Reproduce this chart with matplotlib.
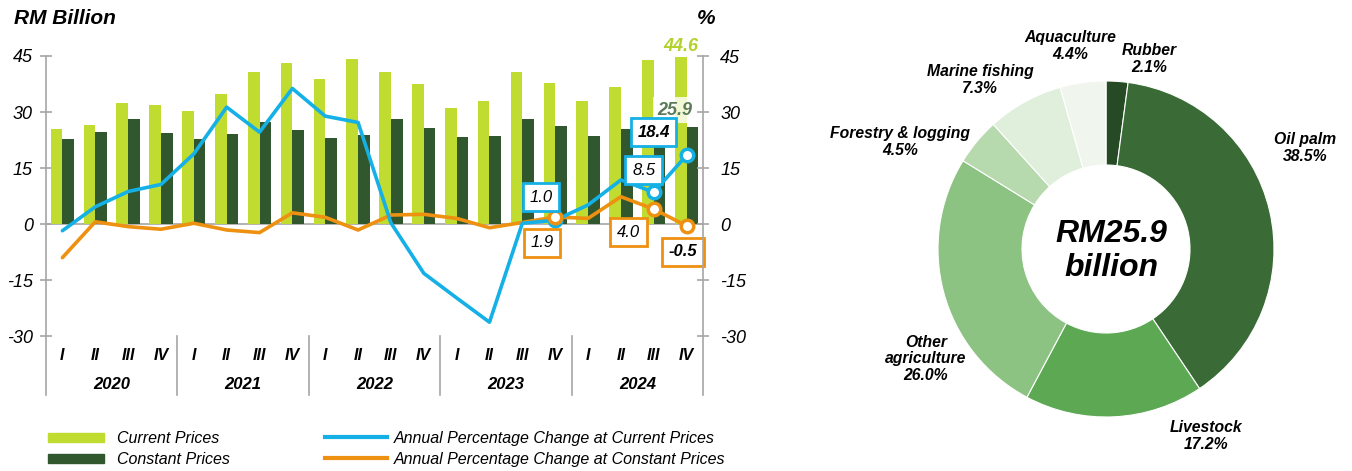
import numpy as np
import matplotlib
matplotlib.use("Agg")
import matplotlib.pyplot as plt
from matplotlib.patches import Patch
from matplotlib.lines import Line2D

plt.rcParams['font.family'] = ['Liberation Sans', 'DejaVu Sans']

# quarterly value added, RM billion
years = ["2020", "2021", "2022", "2023", "2024"]
quarters = ["I", "II", "III", "IV"]
current_prices = [25.4, 26.6, 32.5, 31.8, 30.2, 34.8, 40.7, 43.1, 38.8, 44.3,
                  40.7, 37.4, 31.2, 32.9, 40.6, 37.9, 32.9, 36.7, 44.0, 44.6]
constant_prices = [22.7, 24.6, 28.2, 24.4, 22.7, 24.2, 27.4, 25.1, 23.1, 23.8,
                   28.1, 25.7, 23.4, 23.7, 28.2, 26.3, 23.7, 25.4, 25.6, 25.9]
# annual percentage change, %
pct_current = [-1.8, 4.6, 8.7, 10.6, 18.8, 31.3, 24.6, 36.3, 28.9, 27.2,
               0.3, -13.2, -19.8, -26.3, 0.2, 1.0, 5.1, 11.8, 8.5, 18.4]
pct_constant = [-9.0, 0.6, -0.7, -1.4, 0.2, -1.6, -2.3, 3.0, 1.8, -1.6,
                2.4, 2.6, 1.5, -1.0, 0.4, 1.9, 1.5, 7.3, 4.0, -0.5]

# subsector shares for 2024 Q4
sectors = ["Rubber", "Oil palm", "Livestock", "Other\nagriculture",
           "Forestry & logging", "Marine fishing", "Aquaculture"]
shares = [2.1, 38.5, 17.2, 26.0, 4.5, 7.3, 4.4]
total_label = "RM25.9\nbillion"

LIME = "#c0dc30"
DKGREEN = "#30572d"
BLUE = "#14b0e6"
ORANGE = "#ee9010"
GRID = "#a6a6a6"

W, H = 1352, 471
fig = plt.figure(figsize=(W / 100, H / 100), dpi=100)


def fx(px):
    return px / W


def fy(py):
    return 1 - py / H


# ---------------- left: bars + lines ----------------
ax = fig.add_axes([fx(46), fy(395), fx(703) - fx(46), fy(56) - fy(395)])
n = len(current_prices)
x = np.arange(n)
bw = 0.355
ax.bar(x - bw / 2, current_prices, bw, color=LIME, zorder=2)
ax.bar(x + bw / 2, constant_prices, bw, color=DKGREEN, zorder=2)
ax.axhline(0, color=GRID, lw=1.2, zorder=1)

ax.plot(x, pct_constant, color=ORANGE, lw=2.6, zorder=3, solid_capstyle='round')
ax.plot(x, pct_current, color=BLUE, lw=2.6, zorder=4, solid_capstyle='round')

ybot = -45.8
ax.set_xlim(-0.5, n - 0.5)
ax.set_ylim(ybot, 45)
ticks = [45, 30, 15, 0, -15, -30]
ax.set_yticks(ticks)
ax.set_yticklabels([str(t) for t in ticks], fontstyle='italic', fontsize=13)
ax.set_xticks([])
for s in ["top", "bottom", "right"]:
    ax.spines[s].set_visible(False)
ax.spines["left"].set_color(GRID)
ax.spines["left"].set_linewidth(1.2)
ax.tick_params(axis='y', direction='inout', length=9, width=1.2, color=GRID, pad=5)

ax2 = ax.twinx()
ax2.set_ylim(ybot, 45)
ax2.set_yticks(ticks)
ax2.set_yticklabels([str(t) for t in ticks], fontstyle='italic', fontsize=13)
for s in ["top", "bottom", "left"]:
    ax2.spines[s].set_visible(False)
ax2.spines["right"].set_color(GRID)
ax2.spines["right"].set_linewidth(1.2)
ax2.tick_params(axis='y', direction='inout', length=9, width=1.2, color=GRID, pad=8)

# quarter and year labels under the plot
for i in range(n):
    ax.text(i, -35.1, quarters[i % 4], ha='center', va='center',
            fontsize=11.5, fontweight='bold', fontstyle='italic')
for k, yr in enumerate(years):
    ax.text(4 * k + 1.5, -43.1, yr, ha='center', va='center',
            fontsize=12, fontweight='bold', fontstyle='italic')
for b in [3.5, 7.5, 11.5, 15.5]:
    ax.plot([b, b], [-30, ybot], color=GRID, lw=1.2, clip_on=False)

# highlighted points
for idx in [15, 18, 19]:
    ax.plot(idx, pct_current[idx], 'o', ms=9, mfc='white', mec=BLUE, mew=2.5, zorder=5)
    ax.plot(idx, pct_constant[idx], 'o', ms=9, mfc='white', mec=ORANGE, mew=2.5, zorder=6)


def boxed(idx, series, color, dx, dy, bold=False):
    val = series[idx]
    ax.annotate(f"{val:.1f}", xy=(idx, val), xytext=(dx, dy),
                textcoords='offset pixels', ha='center', va='center',
                fontsize=12, fontstyle='italic',
                fontweight='bold' if bold else 'normal', zorder=8,
                bbox=dict(boxstyle='square,pad=0.4', fc='white', ec=color, lw=2))


boxed(15, pct_current, BLUE, -14, 23)
boxed(18, pct_current, BLUE, -10, 22)
boxed(19, pct_current, BLUE, -33, 23, bold=True)
boxed(15, pct_constant, ORANGE, -13, -26)
boxed(18, pct_constant, ORANGE, -25, -23)
boxed(19, pct_constant, ORANGE, -4, -26, bold=True)

ax.text(19 - bw / 2, current_prices[19] + 0.6, f"{current_prices[19]:.1f}",
        ha='center', va='bottom', color="#b3d12b", fontsize=13,
        fontweight='bold', fontstyle='italic', zorder=7)
ax.text(18.65, 30.5, f"{constant_prices[19]:.1f}", ha='center', va='center',
        color="#5b7b58", fontsize=13, fontweight='bold', fontstyle='italic', zorder=7,
        bbox=dict(boxstyle='square,pad=0.25', fc='white', ec='none', alpha=0.8))

fig.text(fx(14), fy(18), "RM Billion", ha='left', va='center', fontsize=15,
         fontweight='bold', fontstyle='italic')
fig.text(fx(706), fy(18), "%", ha='center', va='center', fontsize=15,
         fontweight='bold', fontstyle='italic')

# legends
leg_kw = dict(frameon=False, loc='upper left', borderpad=0, borderaxespad=0,
              prop={'size': 11.5, 'style': 'italic'}, labelspacing=0.38)
fig.legend([Patch(color=LIME), Patch(color=DKGREEN)],
           ["Current Prices", "Constant Prices"],
           bbox_to_anchor=(fx(48), fy(431)), handlelength=3.5,
           handleheight=0.5, handletextpad=0.85, **leg_kw)
fig.legend([Line2D([], [], color=BLUE, lw=3), Line2D([], [], color=ORANGE, lw=3)],
           ["Annual Percentage Change at Current Prices",
            "Annual Percentage Change at Constant Prices"],
           bbox_to_anchor=(fx(325), fy(431)), handlelength=3.9,
           handletextpad=0.4, **leg_kw)

# ---------------- right: donut ----------------
cx, cy, r = 1106, 249, 168
half = 230
pax = fig.add_axes([fx(cx - half), fy(cy + half), 2 * half / W, 2 * half / H])
pie_colors = ["#254a24", "#3a6b36", "#5da853", "#8cc383", "#b7d9ae", "#e0efdc", "#f0f6ee"]
pax.pie(shares, colors=pie_colors, startangle=90, counterclock=False, radius=1,
        wedgeprops=dict(width=0.5, edgecolor='white', linewidth=0.8))
pax.set_xlim(-half / r, half / r)
pax.set_ylim(-half / r, half / r)
pax.set_aspect('equal')
pax.axis('off')

label_px = [(1149, 59), (1305, 148), (1206, 436), (926, 359),
            (900, 142), (980, 80), (1070, 46)]
for name, val, (lx, ly) in zip(sectors, shares, label_px):
    pax.text((lx - cx) / r, (cy - ly) / r, f"{name}\n{val:.1f}%", ha='center',
             va='center', fontsize=11.3, fontweight='bold', fontstyle='italic',
             linespacing=1.15)

pax.text((1111 - cx) / r, (cy - 251) / r, total_label, ha='center', va='center',
         fontsize=23, fontweight='bold', fontstyle='italic', linespacing=1.15)

fig.savefig("out.png", dpi=100)
